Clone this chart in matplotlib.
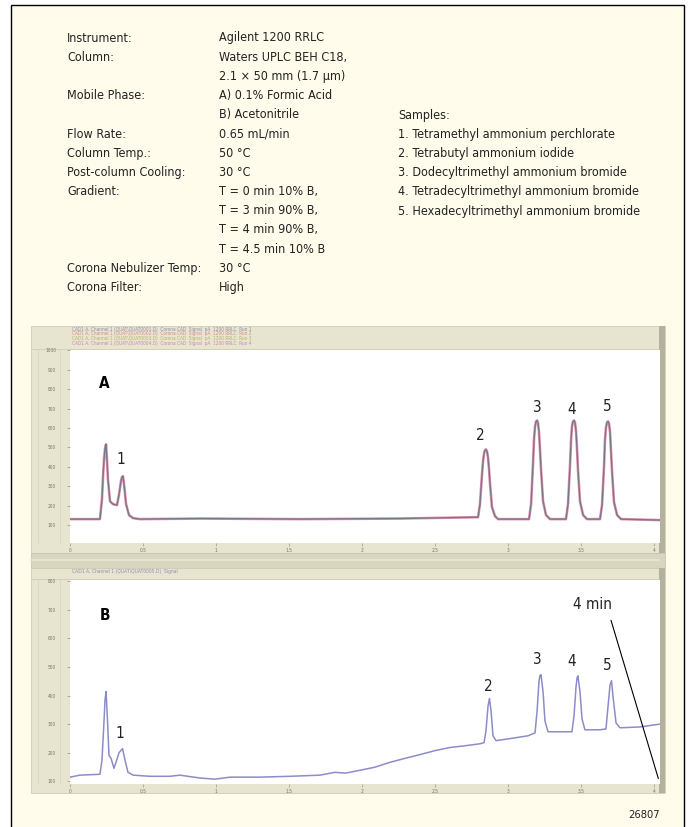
import matplotlib.pyplot as plt
from matplotlib.patches import Rectangle

W, H = 688, 827

# method conditions (left column labels / values)
cond_labels = ['Instrument:', 'Column:', '', 'Mobile Phase:', '', 'Flow Rate:', 'Column Temp.:',
               'Post-column Cooling:', 'Gradient:', '', '', '', 'Corona Nebulizer Temp:', 'Corona Filter:']
cond_values = ['Agilent 1200 RRLC', 'Waters UPLC BEH C18,', '2.1 \u00d7 50 mm (1.7 \u00b5m)',
               'A) 0.1% Formic Acid', 'B) Acetonitrile', '0.65 mL/min', '50 \u00b0C', '30 \u00b0C',
               'T = 0 min 10% B,', 'T = 3 min 90% B,', 'T = 4 min 90% B,', 'T = 4.5 min 10% B',
               '30 \u00b0C', 'High']
samples = ['Samples:', '1. Tetramethyl ammonium perchlorate', '2. Tetrabutyl ammonium iodide',
           '3. Dodecyltrimethyl ammonium bromide', '4. Tetradecyltrimethyl ammonium bromide',
           '5. Hexadecyltrimethyl ammonium bromide']

# chromatogram A (min, signal)
time_a = [0.000, 0.205, 0.219, 0.226, 0.233, 0.240, 0.247, 0.253, 0.260, 0.274, 0.295, 0.322,
          0.336, 0.349, 0.356, 0.363, 0.370, 0.384, 0.404, 0.432, 0.479, 0.890, 1.575, 2.260,
          2.795, 2.808, 2.822, 2.829, 2.836, 2.842, 2.849, 2.856, 2.863, 2.870, 2.877, 2.890, 2.911, 2.932,
          3.144, 3.158, 3.171, 3.178, 3.185, 3.192, 3.199, 3.205, 3.212, 3.219, 3.226, 3.240, 3.260, 3.288,
          3.397, 3.411, 3.425, 3.432, 3.438, 3.445, 3.452, 3.459, 3.466, 3.473, 3.479, 3.493, 3.514, 3.541,
          3.630, 3.644, 3.658, 3.664, 3.671, 3.678, 3.685, 3.692, 3.699, 3.705, 3.712, 3.726, 3.747, 3.774,
          4.041]
sig_a = [131, 131, 234, 346, 439, 495, 516, 439, 336, 223, 208, 203,
         259, 326, 348, 352, 311, 208, 152, 136, 131, 134, 131, 134,
         141, 208, 362, 429, 470, 485, 490, 480, 449, 388, 311, 193, 146, 131,
         131, 208, 413, 541, 608, 634, 639, 629, 582, 490, 388, 223, 152, 131,
         131, 208, 413, 541, 608, 634, 639, 629, 582, 490, 388, 223, 152, 131,
         131, 203, 408, 536, 603, 629, 634, 624, 577, 485, 383, 218, 152, 131,
         126]

# chromatogram B (min, signal)
time_b = [0.000, 0.068, 0.205, 0.219, 0.233, 0.240, 0.247, 0.257, 0.267, 0.281, 0.301, 0.315, 0.336,
          0.360, 0.377, 0.397, 0.432, 0.548, 0.685, 0.753, 0.890, 0.993, 1.096, 1.301, 1.507,
          1.712, 1.815, 1.884, 1.986, 2.089, 2.192, 2.295, 2.397, 2.500, 2.603, 2.705, 2.808,
          2.836, 2.849, 2.863, 2.873, 2.884, 2.897, 2.918, 3.014, 3.137, 3.185, 3.199, 3.212,
          3.219, 3.226, 3.240, 3.253, 3.274, 3.356, 3.438, 3.452, 3.466, 3.473, 3.479, 3.493, 3.507,
          3.527, 3.630, 3.671, 3.685, 3.699, 3.709, 3.719, 3.740, 3.767, 3.904, 4.041]
sig_b = [114, 121, 124, 173, 311, 385, 414, 311, 190, 180, 145, 166, 200,
         214, 173, 131, 121, 117, 117, 121, 111, 107, 114, 114, 117,
         121, 131, 128, 138, 149, 166, 180, 193, 207, 218, 224, 231,
         235, 276, 362, 390, 345, 259, 242, 249, 259, 269, 345, 449,
         470, 473, 414, 311, 273, 273, 273, 328, 431, 462, 469, 414, 318,
         280, 280, 283, 362, 438, 452, 397, 304, 287, 290, 300]

peak_names = ['1', '2', '3', '4', '5']
label_time = [0.349, 2.808, 3.199, 3.438, 3.678]
label_y_a = [439, 562, 706, 695, 711]
label_time_b = [0.342, 2.863, 3.199, 3.438, 3.678]
label_y_b = [266, 431, 528, 521, 504]

x_ticks = [0, 0.5, 1, 1.5, 2, 2.5, 3, 3.5, 4]
x_tick_labels = ['0', '0.5', '1', '1.5', '2', '2.5', '3', '3.5', '4']
y_ticks_a = [100, 200, 300, 400, 500, 600, 700, 800, 900, 1000]
y_ticks_b = [100, 200, 300, 400, 500, 600, 700, 800]

plt.rcParams['font.family'] = ['DejaVu Sans']
plt.rcParams['font.stretch'] = 'condensed'

CREAM = '#fffcec'
BEIGE = '#e7e4cf'
BAND = '#d9d6c0'
TXT = '#222222'


def box(x0, y0, x1, y1):
    return [x0 / W, 1 - y1 / H, (x1 - x0) / W, (y1 - y0) / H]


fig = plt.figure(figsize=(W / 100, H / 100), dpi=100)
fig.patch.set_facecolor('white')

bg = fig.add_axes([0, 0, 1, 1])
bg.set_xlim(0, W)
bg.set_ylim(H, 0)
bg.axis('off')
bg.add_patch(Rectangle((11, 5), 673, 830, facecolor=CREAM, edgecolor='black', lw=1.0))

# condition text block
for i, (lab, val) in enumerate(zip(cond_labels, cond_values)):
    y = 38 + i * 19.2
    bg.text(67, y, lab, fontsize=9, va='center', color=TXT)
    bg.text(219, y, val, fontsize=9, va='center', color=TXT)
for i, s in enumerate(samples):
    bg.text(398, 115 + i * 19.2, s, fontsize=9, va='center', color=TXT)

# screenshot frames
bg.add_patch(Rectangle((31, 326), 634, 227, facecolor=BEIGE, edgecolor='#cfccb6', lw=0.6))
bg.add_patch(Rectangle((31, 553), 634, 15, facecolor=BAND, edgecolor='#c8c5ae', lw=0.6))
bg.add_patch(Rectangle((31, 568), 634, 225, facecolor=BEIGE, edgecolor='#cfccb6', lw=0.6))
bg.add_patch(Rectangle((659, 326), 6, 227, facecolor='#b4b19e', edgecolor='none'))
bg.add_patch(Rectangle((659, 568), 6, 225, facecolor='#b4b19e', edgecolor='none'))
for xv in (38, 60):
    bg.plot([xv, xv], [350, 543], color='#d6d3bd', lw=0.5)
    bg.plot([xv, xv], [580, 784], color='#d6d3bd', lw=0.5)
bg.plot([31, 659], [349, 349], color='#d0cdb7', lw=0.6)
bg.plot([31, 659], [579, 579], color='#d0cdb7', lw=0.6)
bg.plot([31, 659], [560, 560], color='#e8e5d2', lw=1.2)

# header strips (signal descriptions)
hdr_a = ['CAD1 A, Channel 1 (QUAT\\QUAT0001.D)  Corona CAD  Signal  pA  1200 RRLC  Run 1',
         'CAD1 A, Channel 1 (QUAT\\QUAT0002.D)  Corona CAD  Signal  pA  1200 RRLC  Run 2',
         'CAD1 A, Channel 1 (QUAT\\QUAT0003.D)  Corona CAD  Signal  pA  1200 RRLC  Run 3',
         'CAD1 A, Channel 1 (QUAT\\QUAT0004.D)  Corona CAD  Signal  pA  1200 RRLC  Run 4']
hdr_colors = ['#8f8fb8', '#d98a8a', '#b9b36a', '#c98ab0']
for i, (t, c) in enumerate(zip(hdr_a, hdr_colors)):
    bg.text(72, 329 + i * 4.8, t, fontsize=3.4, color=c, va='center')
bg.text(72, 572, 'CAD1 A, Channel 1 (QUAT\\QUAT0005.D)  Signal', fontsize=3.6, color='#8f8fb8', va='center')


def style_axis(ax, yticks):
    ax.set_facecolor('white')
    for s in ax.spines.values():
        s.set_visible(False)
    ax.set_xticks(x_ticks)
    ax.set_xticklabels(x_tick_labels)
    ax.set_yticks(yticks)
    ax.set_yticklabels([str(v) for v in yticks])
    ax.tick_params(axis='both', length=2, width=0.5, color='#9a9784',
                   labelsize=3.5, labelcolor='#777766', pad=1.5)
    ax.tick_params(axis='y', pad=8)


# panel A
ax_a = fig.add_axes(box(70, 350, 660, 543))
ax_a.plot(time_a, sig_a, color='#e39aa8', lw=1.9, solid_joinstyle='round')
ax_a.plot(time_a, sig_a, color='#7d7590', lw=1.0, solid_joinstyle='round')
ax_a.set_xlim(0, 4.041)
ax_a.set_ylim(8, 1002)
style_axis(ax_a, y_ticks_a)
ax_a.text(0.233, 829, 'A', fontsize=11, fontweight='bold', ha='center', va='center')
for n, t, y in zip(peak_names, label_time, label_y_a):
    ax_a.text(t, y, n, fontsize=11, ha='center', va='center', color=TXT)

# panel B
ax_b = fig.add_axes(box(70, 580, 660, 784))
ax_b.plot(time_b, sig_b, color='#8c8cc8', lw=1.1, solid_joinstyle='round')
ax_b.set_xlim(0, 4.041)
ax_b.set_ylim(90, 805)
style_axis(ax_b, y_ticks_b)
ax_b.text(0.240, 680, 'B', fontsize=11, fontweight='bold', ha='center', va='center')
for n, t, y in zip(peak_names, label_time_b, label_y_b):
    ax_b.text(t, y, n, fontsize=11, ha='center', va='center', color=TXT)
ax_b.annotate('', xy=(4.035, 100), xytext=(3.70, 673),
              arrowprops=dict(arrowstyle='-', color='black', lw=0.8), annotation_clip=False)
ax_b.text(3.58, 718, '4 min', fontsize=11, ha='center', va='center', color=TXT)

bg.text(660, 815, '26807', fontsize=8, ha='right', va='center', color=TXT)

plt.savefig('out.png', dpi=100)
plt.close()
